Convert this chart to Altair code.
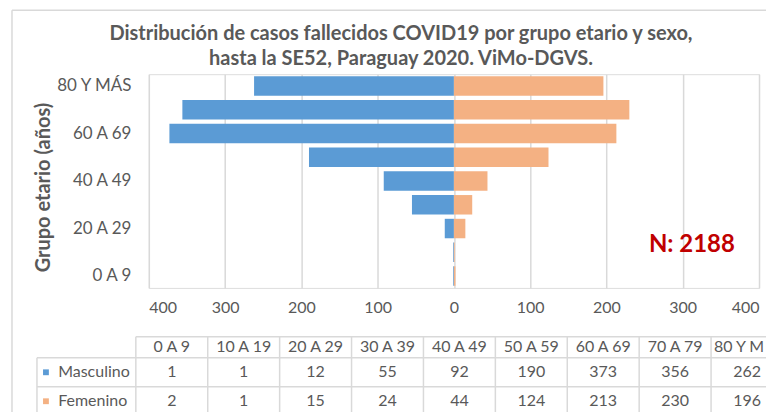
import altair as alt
import pandas as pd

# ---------------- data ----------------
groups = ["0 A 9", "10 A 19", "20 A 29", "30 A 39", "40 A 49",
          "50 A 59", "60 A 69", "70 A 79", "80 Y MÁS"]
masculino = [1, 1, 12, 55, 92, 190, 373, 356, 262]
femenino = [2, 1, 15, 24, 44, 124, 213, 230, 196]
series = ["Masculino", "Femenino"]
colors = ["#5B9BD5", "#F4B183"]
x_ticks = [-400, -300, -200, -100, 0, 100, 200, 300, 400]
y_labels_shown = ["80 Y MÁS", "60 A 69", "40 A 49", "20 A 29", "0 A 9"]
title_lines = ["Distribución de casos fallecidos COVID19 por grupo etario y sexo,",
               "hasta la SE52, Paraguay 2020. ViMo-DGVS."]
y_title = "Grupo etario (años)"
n_label = "N: 2188"
n_x = 312
n_group = "10 A 19"

# ---------------- styling / layout constants ----------------
FONT = "Lato"
GREY = "#595959"
GRID = "#D9D9D9"
W, H = 611, 214

# table geometry (one column = 72 px, one row = 29 px)
COL_PX, ROW_PX = 72, 29
TABLE_LEFT_PX = -13      # left edge of first data column relative to plot
TABLE_TOP_PX = 263       # top of table relative to plot top
RIGHT_PX = 618           # right edge of visible area relative to plot
HDR_H = 21 / 29          # header row height in row units
LEG_LEFT = -99 / 72      # left edge of legend column
LEG_SQ_X = -1.25
LEG_TXT_X = -1.08
LAST_HDR_PAD = 0.04      # left padding of the (cut) last header label
U_MAX = (RIGHT_PX - TABLE_LEFT_PX) / COL_PX

pyr = pd.DataFrame(
    [{"group": g, "sexo": "Masculino", "value": -v} for g, v in zip(groups, masculino)]
    + [{"group": g, "sexo": "Femenino", "value": v} for g, v in zip(groups, femenino)]
)

n_rows = len(series)
hlines = [{"x": 0, "x2": U_MAX, "y": 0}]
for r in range(n_rows + 1):
    hlines.append({"x": LEG_LEFT, "x2": U_MAX, "y": HDR_H + r})
vlines = [{"x": LEG_LEFT, "y": HDR_H, "y2": HDR_H + n_rows}]
for i in range(len(groups)):
    vlines.append({"x": i, "y": 0, "y2": HDR_H + n_rows})
hlines = pd.DataFrame(hlines)
vlines = pd.DataFrame(vlines)

headers, values, legend = [], [], []
last = len(groups) - 1
for i, g in enumerate(groups):
    if i < last:
        headers.append({"tx": i + 0.5, "ty": HDR_H / 2, "label": g})
last_header = pd.DataFrame([{"tx": last + LAST_HDR_PAD, "ty": HDR_H / 2, "label": groups[last]}])
for r, (name, vals) in enumerate(zip(series, [masculino, femenino])):
    top = HDR_H + r
    legend.append({"tx": LEG_TXT_X, "sx": LEG_SQ_X, "ty": top + 0.5, "label": name, "sexo": name})
    for i, v in enumerate(vals):
        values.append({"tx": i + 0.5, "ty": top + 0.5, "label": str(v)})
headers = pd.DataFrame(headers)
values = pd.DataFrame(values)
legend = pd.DataFrame(legend)

color_scale = alt.Scale(domain=series, range=colors)
y_scale = alt.Scale(domain=groups[::-1], paddingInner=0.18, paddingOuter=0.09)

# ---------------- pyramid ----------------
bars = alt.Chart(pyr).mark_bar().encode(
    x=alt.X("value:Q",
            scale=alt.Scale(domain=[-400, 400], nice=False),
            axis=alt.Axis(values=x_ticks, labelExpr="abs(datum.value)", title="",
                          grid=True, gridColor=GRID, gridWidth=1.5,
                          domain=False, ticks=False, tickSize=0, labelPadding=12,
                          labelFont=FONT, labelFontSize=16, labelColor=GREY)),
    y=alt.Y("group:N", scale=y_scale,
            axis=alt.Axis(values=y_labels_shown, title=y_title,
                          domain=False, ticks=False, tickSize=0, labelPadding=18,
                          labelFont=FONT, labelFontSize=17, labelColor=GREY,
                          titleFont=FONT, titleFontSize=20, titleFontWeight="bold",
                          titleColor=GREY, titleAngle=270, titleX=-105, titleY=113,
                          titleAlign="center", titleBaseline="middle")),
    color=alt.Color("sexo:N", scale=color_scale, legend=None),
)

ntext = alt.Chart(pd.DataFrame({"label": [n_label], "x": [n_x], "group": [n_group]})).mark_text(
    font=FONT, fontSize=24, fontWeight="bold", color="#C00000", dy=-7
).encode(x="x:Q", y="group:N", text="label:N")

one = pd.DataFrame({"k": [0]})
frame_v = alt.Chart(one).mark_rule(color=GRID, strokeWidth=1.5).encode(
    x=alt.value(-137), y=alt.value(-64), y2=alt.value(339))
frame_h = alt.Chart(one).mark_rule(color=GRID, strokeWidth=1.5).encode(
    x=alt.value(-137), x2=alt.value(RIGHT_PX), y=alt.value(-64))

pyramid = alt.layer(frame_v, frame_h, bars, ntext)

# ---------------- data table ----------------
u0 = -TABLE_LEFT_PX / COL_PX
u1 = (W - TABLE_LEFT_PX) / COL_PX
v0 = -TABLE_TOP_PX / ROW_PX
v1 = (H - TABLE_TOP_PX) / ROW_PX
tx_scale = alt.Scale(domain=[u0, u1], nice=False, zero=False)
ty_scale = alt.Scale(domain=[v0, v1], nice=False, zero=False, reverse=True)

X_ENC = alt.X("tx:Q", scale=tx_scale, axis=None)
Y_ENC = alt.Y("ty:Q", scale=ty_scale, axis=None)

h_marks = alt.Chart(hlines).mark_rule(color=GRID, strokeWidth=1.5).encode(
    x=alt.X("x:Q", scale=tx_scale, axis=None), x2="x2:Q",
    y=alt.Y("y:Q", scale=ty_scale, axis=None))
v_marks = alt.Chart(vlines).mark_rule(color=GRID, strokeWidth=1.5).encode(
    x=alt.X("x:Q", scale=tx_scale, axis=None),
    y=alt.Y("y:Q", scale=ty_scale, axis=None), y2="y2:Q")
header_marks = alt.Chart(headers).mark_text(font=FONT, fontSize=16, color=GREY).encode(
    x=X_ENC, y=Y_ENC, text="label:N")
last_header_mark = alt.Chart(last_header).mark_text(
    font=FONT, fontSize=16, color=GREY, align="left", limit=53, ellipsis="\u200b"
).encode(x=X_ENC, y=Y_ENC, text="label:N")
value_marks = alt.Chart(values).mark_text(font=FONT, fontSize=16, color=GREY).encode(
    x=X_ENC, y=Y_ENC, text="label:N")
leg_text = alt.Chart(legend).mark_text(font=FONT, fontSize=16, color=GREY, align="left").encode(
    x=X_ENC, y=Y_ENC, text="label:N")
leg_sq = alt.Chart(legend).mark_square(size=34, opacity=1).encode(
    x=alt.X("sx:Q", scale=tx_scale, axis=None), y=Y_ENC,
    color=alt.Color("sexo:N", scale=color_scale, legend=None))

table = alt.layer(h_marks, v_marks, header_marks, last_header_mark, value_marks, leg_text, leg_sq)

chart = alt.layer(pyramid, table).resolve_scale(x="independent", y="independent").properties(
    width=W, height=H,
    padding={"left": 3, "top": 1, "right": 0, "bottom": 0},
    title=alt.TitleParams(text=title_lines, anchor="middle", frame="group", dx=-53,
                          offset=-76, baseline="alphabetic", font=FONT, fontSize=20,
                          fontWeight="bold", color=GREY, lineHeight=25),
).configure_view(strokeOpacity=0).configure(background="white")

chart.save("out.html", embed_options={"renderer": "svg", "actions": False})
